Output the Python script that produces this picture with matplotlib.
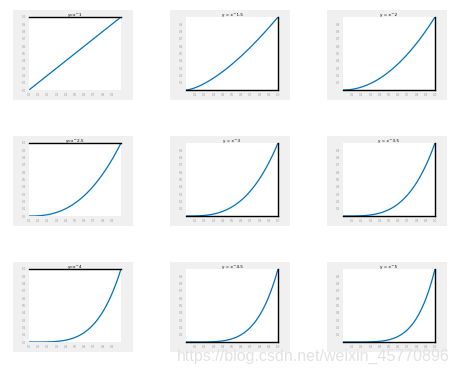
import numpy as np
import matplotlib
matplotlib.use("Agg")
import matplotlib.pyplot as plt

# exponents of y = x^p, row by row
powers = [1.0, 1.5, 2.0, 2.5, 3.0, 3.5, 4.0, 4.5, 5.0]
titles = ["y=x^1", "y = x^1.5", "y = x^2",
          "y=x^2.5", "y = x^3", "y = x^3.5",
          "y=x^4", "y = x^4.5", "y = x^5"]
x_samples = np.linspace(0, 1, 101)

W, H = 458, 373
fig = plt.figure(figsize=(W / 100, H / 100), dpi=100)

col_left = [13, 170, 327]
row_top = [10, 136, 262]
panel_w, panel_h = 120, 90
blue = "#0072BD"

for i, p in enumerate(powers):
    r, c = divmod(i, 3)
    x0, y0 = col_left[c], row_top[r]

    # gray frame of the little figure
    bg = fig.add_axes([x0 / W, 1 - (y0 + panel_h) / H, panel_w / W, panel_h / H])
    bg.set_facecolor("#f0f0f0")
    bg.set_xticks([])
    bg.set_yticks([])
    for s in bg.spines.values():
        s.set_visible(False)

    # inner axes
    ax = fig.add_axes([(x0 + 16) / W, 1 - (y0 + 80) / H, 92 / W, 73 / H])
    ax.plot(x_samples, x_samples ** p, color=blue, lw=0.9)
    ax.set_xlim(0, 1)
    ax.set_ylim(0, 1)
    ax.set_title(titles[i], fontsize=3, pad=1)

    if c == 0:
        ax.spines["top"].set_linewidth(1.0)
        ax.spines["right"].set_visible(False)
        ax.spines["left"].set_visible(False)
        ax.spines["bottom"].set_visible(False)
        ax.set_xticks(np.arange(0, 1.0, 0.1))
        ax.set_yticks(np.arange(0, 1.01, 0.1))
    else:
        ax.spines["right"].set_linewidth(1.0)
        ax.spines["bottom"].set_linewidth(1.0)
        ax.spines["top"].set_visible(False)
        ax.spines["left"].set_visible(False)
        ax.set_xticks(np.arange(0.1, 1.01, 0.1))
        ax.set_yticks(np.arange(0.1, 0.91, 0.1))
    ax.tick_params(labelsize=2, colors="#999999", length=0, pad=2)

fig.text(177 / W, 1 - 356 / H, "https://blog.csdn.net/weixin_45770896",
         fontsize=11.5, family="Liberation Sans", color="#e2e2e2",
         va="center", ha="left")

fig.savefig("out.png", dpi=100)
